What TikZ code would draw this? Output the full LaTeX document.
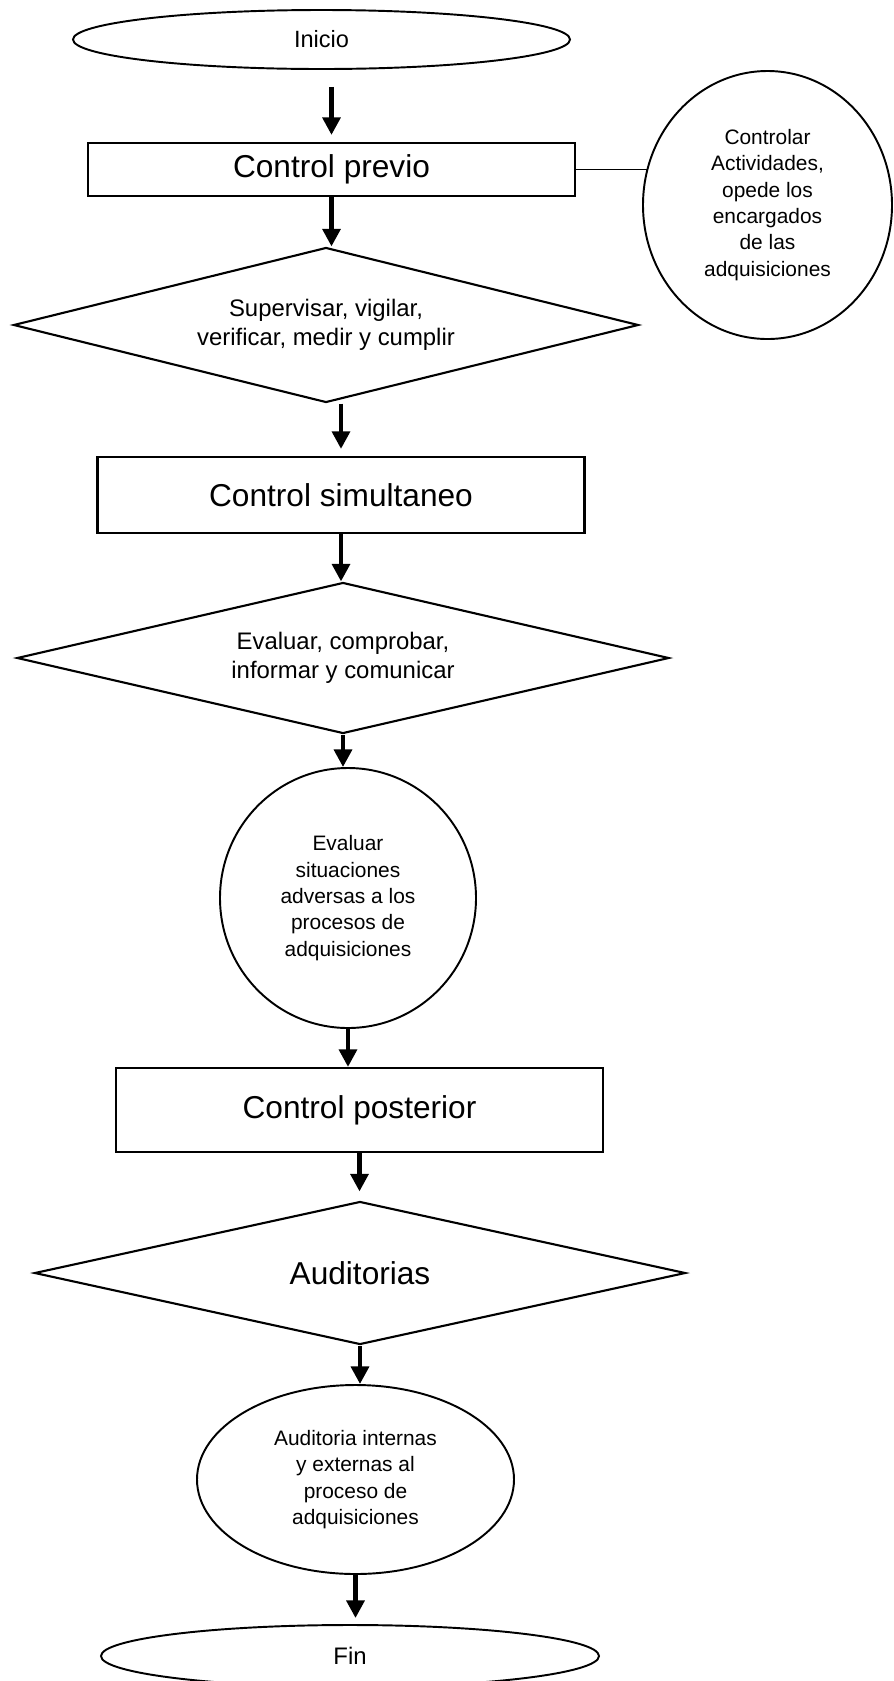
\documentclass[tikz,border=0pt]{standalone}
\usepackage{fontspec}
\setmainfont{Liberation Sans}
\usetikzlibrary{shapes.geometric,arrows.meta}

\begin{document}
\begin{tikzpicture}[
    caja/.style={draw,line width=1.2pt,rectangle,minimum width=9.74cm,inner sep=0pt,font=\fontsize{18}{21}\selectfont},
    rombo/.style={draw,line width=1.2pt,diamond,shape aspect=4,inner sep=0pt,align=center,font=\fontsize{13.6}{16.5}\selectfont},
    elipse/.style={draw,line width=1.1pt,ellipse,inner sep=0pt,align=center,font=\fontsize{11.9}{15}\selectfont},
    flecha/.style={line width=2.8pt,-{Triangle[width=10pt,length=10pt]}}]
  \useasboundingbox (0,0) rectangle (17.86,-33.62);
  \node[elipse,minimum width=9.94cm,minimum height=1.18cm,font=\fontsize{13.4}{16}\selectfont] (inicio) at (6.43,-0.79) {Inicio};
  \node[caja,minimum height=1.06cm] (prev) at (6.63,-3.39) {Control previo};
  \node[elipse,minimum width=4.98cm,minimum height=5.36cm] (ctrl) at (15.35,-4.10)
    {Controlar\\Actividades,\\opede los\\encargados\\de las\\adquisiciones};
  \node[rombo,minimum width=12.5cm,minimum height=3.1cm] (sup) at (6.52,-6.50)
    {Supervisar, vigilar,\\verificar, medir y cumplir};
  \node[caja,minimum height=1.52cm] (sim) at (6.82,-9.90) {Control simultaneo};
  \node[rombo,minimum width=13.04cm,minimum height=3.02cm] (eva) at (6.86,-13.16)
    {Evaluar, comprobar,\\informar y comunicar};
  \node[elipse,minimum width=5.12cm,minimum height=5.2cm] (adv) at (6.96,-17.96)
    {Evaluar\\situaciones\\adversas a los\\procesos de\\adquisiciones};
  \node[caja,minimum height=1.68cm] (post) at (7.19,-22.20) {Control posterior};
  \node[rombo,minimum width=13.02cm,minimum height=2.86cm,font=\fontsize{18}{21}\selectfont] (aud) at (7.20,-25.46) {Auditorias};
  \node[elipse,minimum width=6.34cm,minimum height=3.78cm] (ext) at (7.11,-29.59)
    {Auditoria internas\\y externas al\\proceso de\\adquisiciones};
  \node[elipse,minimum width=9.96cm,minimum height=1.24cm,font=\fontsize{13.6}{16}\selectfont] (fin) at (7.00,-33.12) {Fin};
  \draw[flecha,shorten <=0.34cm,shorten >=0.14cm] (prev.north |- inicio.south) -- (prev.north);
  \draw[flecha] (prev.south) -- (prev.south |- sup.north);
  \draw[flecha,shorten >=0.14cm] (sim.north |- sup.south) -- (sim.north);
  \draw[flecha] (sim.south) -- (sim.south |- eva.north);
  \draw[flecha] (eva.south) -- (eva.south |- adv.north);
  \draw[flecha] (adv.south) -- (adv.south |- post.north);
  \draw[flecha,shorten >=0.18cm] (post.south) -- (post.south |- aud.north);
  \draw[flecha] (aud.south) -- (aud.south |- ext.north);
  \draw[flecha,shorten >=0.12cm] (ext.south) -- (ext.south |- fin.north);
  \draw[line width=0.6pt] (prev.east) -- (prev.east -| ctrl.163);
\end{tikzpicture}
\end{document}
